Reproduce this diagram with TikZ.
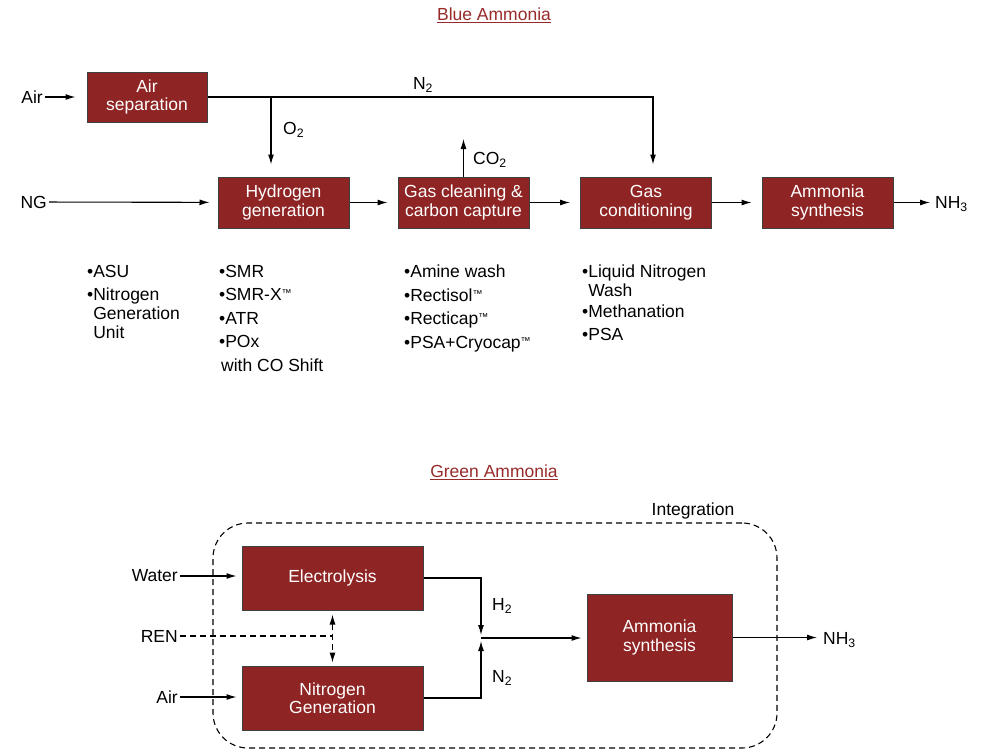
\documentclass[tikz,border=0pt]{standalone}
\usepackage{fontspec}
\setmainfont{Liberation Sans}
\usetikzlibrary{positioning,arrows.meta}
\definecolor{boxred}{RGB}{142,36,35}
\definecolor{headred}{RGB}{152,42,42}
\newcommand{\tmark}{{\fontsize{10}{10}\selectfont\raisebox{4pt}{™}}}

\tikzset{
  plant/.style={draw=black!75, line width=1pt, fill=boxred, text=white, align=center,
    inner sep=1pt, minimum width=131pt, minimum height=51pt,
    font=\fontsize{17.5}{18.5}\selectfont},
  stream/.style={line width=1.1pt, -{Latex[length=10pt,width=6pt]}},
  tag/.style={inner sep=2pt, font=\fontsize{17.5}{19}\selectfont},
  items/.style={tag, align=left, anchor=north west, inner sep=0pt},
  heading/.style={tag, text=headred},
  ctrl/.style={line width=1.1pt, dash pattern=on 6pt off 4pt},
}

\begin{document}
\begin{tikzpicture}[x=1pt, y=-1pt]
    \useasboundingbox (0,0) rectangle (986,750);
    % blue ammonia
    \node (blue)   [heading] at (494,15) {\underline{Blue Ammonia}};
    \node (airsep) [plant, minimum width=120pt, minimum height=50pt] at (147,97) {Air\\separation};
    \node (h2gen)  [plant] at (283.5,202.5) {Hydrogen\\generation};
    \node (clean)  [plant] at (463.5,202.5) {Gas cleaning \&\\carbon capture};
    \node (cond)   [plant] at (646,202.5)   {Gas\\conditioning};
    \node (synth)  [plant] at (827.5,202.5) {Ammonia\\synthesis};
    \node (air)    [tag, anchor=east] at (45,97)   {Air};
    \node (ng)     [tag, anchor=east] at (49,202)  {NG};
    \node (nh3)    [tag, anchor=west] at (933,204) {NH\textsubscript{3}};
    \node (n2)     [tag] at (423,85) {N\textsubscript{2}};
    \node (o2)     [tag, anchor=west] at (281,130) {O\textsubscript{2}};
    \node (co2)    [tag, anchor=west] at (471,160) {CO\textsubscript{2}};
    \coordinate (o2tap)  at (271,97);
    \coordinate (co2out) at (464,139);
    \draw[stream, shorten >=11pt] (air) -- (airsep);
    \draw[stream, shorten >=8pt]  (ng) -- (h2gen);
    \draw[stream, shorten >=10pt] (h2gen) -- (clean);
    \draw[stream, shorten >=10pt] (clean) -- (cond);
    \draw[stream, shorten >=10pt] (cond) -- (synth);
    \draw[stream, shorten >=3pt]  (synth.east) -- (synth.east -| nh3.west);
    \draw[stream, shorten >=12pt] (airsep.east) -| ([xshift=7pt]cond.north);
    \draw[stream, shorten >=12pt] (o2tap) -- (o2tap |- h2gen.north);
    \draw[stream] (clean.north) -- (clean.north |- co2out);
    % technology lists
    \node (asulist)   [items] at (87,265)  {\textbullet{}ASU\\[4pt]\textbullet{}Nitrogen\\\hphantom{\textbullet}Generation\\\hphantom{\textbullet}Unit};
    \node (h2list)    [items] at (219,265) {\textbullet{}SMR\\[4.5pt]\textbullet{}SMR-X\tmark\\[4.5pt]\textbullet{}ATR\\[4.5pt]\textbullet{}POx\\[4.5pt]\hspace{2pt}with CO Shift};
    \node (cleanlist) [items] at (404,265) {\textbullet{}Amine wash\\[4.5pt]\textbullet{}Rectisol\tmark\\[4.5pt]\textbullet{}Recticap\tmark\\[4.5pt]\textbullet{}PSA+Cryocap\tmark};
    \node (condlist)  [items] at (582,265) {\textbullet{}Liquid Nitrogen\\\hphantom{\textbullet}Wash\\[2pt]\textbullet{}Methanation\\[4pt]\textbullet{}PSA};
    % green ammonia
    \node (green)  [heading] at (494,472) {\underline{Green Ammonia}};
    \node (integ)  [draw, ctrl, rounded corners=35pt,
                    minimum width=564pt, minimum height=225pt] at (495,635.5) {};
    \node (integlbl) [tag] at (693,511) {Integration};
    \node (elec)   [plant, minimum width=181pt, minimum height=64pt] at (332.5,578) {Electrolysis};
    \node (nitro)  [plant, minimum width=181pt, minimum height=64pt] at (332.5,698) {Nitrogen\\Generation};
    \node (synthg) [plant, minimum width=145pt, minimum height=87pt] at (659.5,637.5) {Ammonia\\synthesis};
    \node (water)  [tag, anchor=east] at (180,576) {Water};
    \node (ren)    [tag, anchor=east] at (180,636) {REN};
    \node (airg)   [tag, anchor=east] at (180,697) {Air};
    \node (nh3g)   [tag, anchor=west] at (821,640) {NH\textsubscript{3}};
    \node (h2)     [tag, anchor=west] at (490,606) {H\textsubscript{2}};
    \node (n2g)    [tag, anchor=west] at (490,678) {N\textsubscript{2}};
    \coordinate (jn) at (481,638);
    \draw[stream, shorten >=5pt] (water) -- (water -| elec.west);
    \draw[stream, shorten >=5pt] (airg) -- (airg -| nitro.west);
    \draw[ctrl] (ren) -- (ren -| elec.south);
    \draw[ctrl, {Latex[length=10pt,width=6pt]}-{Latex[length=10pt,width=6pt]},
          shorten <=4pt, shorten >=3pt] (elec.south) -- (nitro.north);
    \draw[stream, shorten >=3pt] (elec.east) -| (jn);
    \draw[stream, shorten >=3pt] (nitro.east) -| (jn);
    \draw[stream, shorten >=5pt] (jn) -- (jn -| synthg.west);
    \draw[stream, shorten >=4pt] (synthg.east) -- (synthg.east -| nh3g.west);
\end{tikzpicture}
\end{document}
